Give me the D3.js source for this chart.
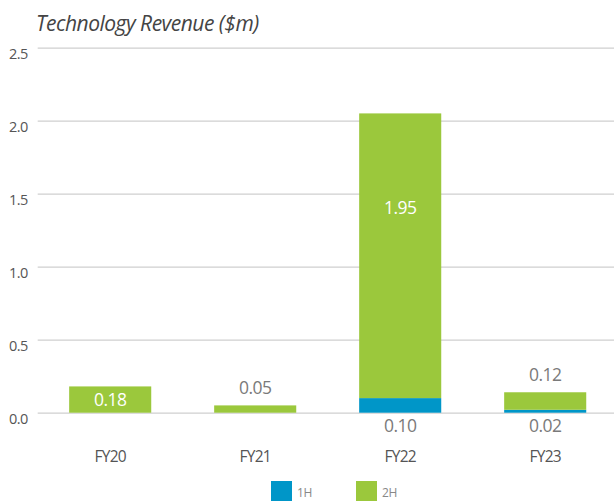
<!DOCTYPE html>
<html>
<head>
<meta charset="utf-8">
<script src="https://cdn.jsdelivr.net/npm/d3@7"></script>
<style>
  body { margin: 0; background: #fff; }
  text { font-family: "Open Sans", sans-serif; }
</style>
</head>
<body>
<svg id="chart"></svg>
<script>
var categories = ["FY20", "FY21", "FY22", "FY23"];
var firstHalf = [0, 0, 0.10, 0.02];
var secondHalf = [0.18, 0.05, 1.95, 0.12];
var yTicks = [0, 0.5, 1.0, 1.5, 2.0, 2.5];
var seriesNames = ["1H", "2H"];

var dimensions = {
  width: 614,
  height: 501,
  margin: { top: 47.7, bottom: 88.3, right: 0, left: 37.7 }
}

var colors = { "1H": "#0096c8", "2H": "#9bc83c" }

var svg = d3.select("#chart")
  .attr("width", dimensions.width)
  .attr("height", dimensions.height)

var x = d3.scaleBand()
  .domain(categories)
  .range([dimensions.margin.left, dimensions.margin.left + 580])
  .paddingInner(0.434)
  .paddingOuter(0.217)

var y = d3.scaleLinear()
  .domain([0, 2.5])
  .range([dimensions.height - dimensions.margin.bottom, dimensions.margin.top])

// gridlines + tick labels
var yAxis = d3.axisLeft(y)
  .tickValues(yTicks)
  .tickFormat(d3.format(".1f"))
  .tickSize(-(dimensions.width - dimensions.margin.left))
  .tickPadding(10)

var gy = svg.append("g")
  .attr("transform", `translate(${dimensions.margin.left},0)`)
  .call(yAxis)
gy.select(".domain").remove()
gy.selectAll(".tick line").attr("stroke", "#cfcfcf").attr("stroke-width", 1.3)
gy.selectAll(".tick text")
  .attr("fill", "#555")
  .style("font-size", "14.5px")
  .style("letter-spacing", "-0.6px")
  .attr("dy", "0.72em")

// stacked bars
var rows = categories.map((c, i) => ({ cat: c, "1H": firstHalf[i], "2H": secondHalf[i] }))
var stacked = d3.stack().keys(seriesNames)(rows)

svg.append("g").selectAll("g")
  .data(stacked)
  .join("g")
  .attr("fill", d => colors[d.key])
  .selectAll("rect")
  .data(d => d)
  .join("rect")
  .attr("x", d => x(d.data.cat))
  .attr("width", x.bandwidth())
  .attr("y", d => y(d[1]))
  .attr("height", d => y(d[0]) - y(d[1]))

// value labels
var labels = svg.append("g")
  .style("font-size", "17.5px")
  .style("letter-spacing", "-0.6px")
  .attr("text-anchor", "middle")
categories.forEach(function(c, i) {
  var cx = x(c) + x.bandwidth() / 2
  var h2 = secondHalf[i], h1 = firstHalf[i]
  var top = h1 + h2
  var segH = y(h1) - y(top)
  if (segH > 22) {
    // inside the 2H segment, white
    labels.append("text")
      .attr("x", cx)
      .attr("y", segH > 60 ? y(top) + 94 : (y(h1) + y(top)) / 2)
      .attr("dy", "0.35em").attr("fill", "#fff")
      .text(d3.format(".2f")(h2))
  } else {
    labels.append("text")
      .attr("x", cx).attr("y", y(top) - 11)
      .attr("fill", "#7a7a7a")
      .text(d3.format(".2f")(h2))
  }
  // 1H label below axis
  if (h1 > 0) {
    labels.append("text")
      .attr("x", cx).attr("y", y(0) + 13)
      .attr("dy", "0.35em").attr("fill", "#7a7a7a")
      .text(d3.format(".2f")(h1))
  }
})

// category labels
svg.append("g").selectAll("text")
  .data(categories)
  .join("text")
  .attr("x", d => x(d) + x.bandwidth() / 2)
  .attr("y", 457)
  .attr("dy", "0.35em")
  .attr("text-anchor", "middle")
  .attr("fill", "#555")
  .style("font-size", "15.5px")
  .style("letter-spacing", "-0.7px")
  .text(d => d)

// title
svg.append("text")
  .attr("x", 36).attr("y", 30.5)
  .attr("fill", "#444")
  .style("font-size", "21px")
  .style("font-style", "italic")
  .style("letter-spacing", "-0.5px")
  .text("Technology Revenue ($m)")

// legend
var legendX = [271, 356]
var legend = svg.append("g").selectAll("g")
  .data(seriesNames)
  .join("g")
  .attr("transform", (d, i) => `translate(${legendX[i]},481)`)
legend.append("rect").attr("width", 21).attr("height", 21).attr("fill", d => colors[d])
legend.append("text")
  .attr("x", 26).attr("y", 12)
  .attr("dy", "0.35em")
  .attr("fill", "#888")
  .style("font-size", "12px")
  .style("letter-spacing", "-0.4px")
  .text(d => d)
</script>
</body>
</html>
